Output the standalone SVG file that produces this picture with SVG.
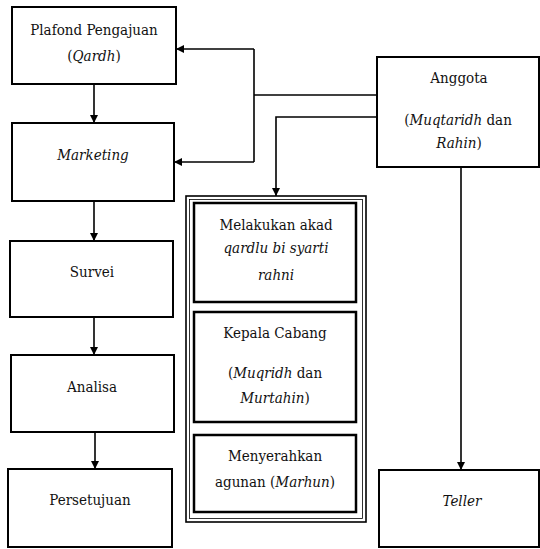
<svg xmlns="http://www.w3.org/2000/svg" width="540" height="549" viewBox="0 0 540 549">
<style>
.box{fill:#fff;stroke:#000;stroke-width:2}
.ibox{fill:#fff;stroke:#000;stroke-width:2.5}
.dbl{fill:none;stroke:#000}
.ln{fill:none;stroke:#000;stroke-width:1.6}
text{font-family:'DejaVu Serif Condensed','DejaVu Serif',serif;font-stretch:condensed;font-size:15px;fill:#111;text-anchor:middle}
.i{font-style:italic}
</style>
<defs>
<marker id="ah" viewBox="0 0 10 10" refX="10" refY="5" markerWidth="8" markerHeight="8" markerUnits="userSpaceOnUse" orient="auto">
<path d="M0,0 L10,5 L0,10 Z" fill="#000"/>
</marker>
</defs>
<g id="connectors">
<line class="ln" x1="94" y1="84" x2="94" y2="123" marker-end="url(#ah)"/>
<line class="ln" x1="94" y1="201" x2="94" y2="241" marker-end="url(#ah)"/>
<line class="ln" x1="94" y1="317" x2="94" y2="355" marker-end="url(#ah)"/>
<line class="ln" x1="95" y1="432" x2="95" y2="469" marker-end="url(#ah)"/>
<polyline class="ln" points="377,95 254,95"/>
<polyline class="ln" points="254,49 254,162"/>
<line class="ln" x1="254" y1="49" x2="176" y2="49" marker-end="url(#ah)"/>
<line class="ln" x1="254" y1="162" x2="174" y2="162" marker-end="url(#ah)"/>
<polyline class="ln" points="377,117 276,117 276,196" marker-end="url(#ah)"/>
<line class="ln" x1="461" y1="167" x2="461" y2="470" marker-end="url(#ah)"/>
</g>
<g id="plafond">
<rect class="box" x="12" y="7" width="164" height="77"/>
<text x="94" y="35">Plafond Pengajuan</text>
<text x="94" y="61">(<tspan class="i">Qardh</tspan>)</text>
</g>
<g id="marketing">
<rect class="box" x="12" y="123" width="162" height="78"/>
<text x="93" y="160" class="i">Marketing</text>
</g>
<g id="survei">
<rect class="box" x="10" y="241" width="163" height="76"/>
<text x="92" y="277">Survei</text>
</g>
<g id="analisa">
<rect class="box" x="11" y="355" width="163" height="77"/>
<text x="92" y="392">Analisa</text>
</g>
<g id="persetujuan">
<rect class="box" x="8" y="469" width="164" height="78"/>
<text x="90" y="505">Persetujuan</text>
</g>
<g id="anggota">
<rect class="box" x="377" y="57" width="162" height="110"/>
<text x="459" y="83">Anggota</text>
<text x="458" y="125">(<tspan class="i">Muqtaridh</tspan> dan</text>
<text x="459" y="148"><tspan class="i">Rahin</tspan>)</text>
</g>
<g id="teller">
<rect class="box" x="379" y="470" width="160" height="77"/>
<text x="462" y="506" class="i">Teller</text>
</g>
<g id="group">
<rect class="dbl" x="186" y="196" width="180" height="326" stroke-width="1.6"/>
<rect class="dbl" x="189.5" y="199.5" width="173" height="319" stroke-width="0.8"/>
</g>
<g id="akad">
<rect class="ibox" x="194" y="203" width="162" height="99"/>
<text x="276" y="230">Melakukan akad</text>
<text x="276" y="253" class="i">qardlu bi syarti</text>
<text x="276" y="280" class="i">rahni</text>
</g>
<g id="kepala">
<rect class="ibox" x="194" y="312" width="162" height="110"/>
<text x="275" y="338">Kepala Cabang</text>
<text x="275" y="378">(<tspan class="i">Muqridh</tspan> dan</text>
<text x="275" y="403"><tspan class="i">Murtahin</tspan>)</text>
</g>
<g id="agunan">
<rect class="ibox" x="194" y="435" width="162" height="77"/>
<text x="275" y="461">Menyerahkan</text>
<text x="275" y="487">agunan (<tspan class="i">Marhun</tspan>)</text>
</g>
</svg>
